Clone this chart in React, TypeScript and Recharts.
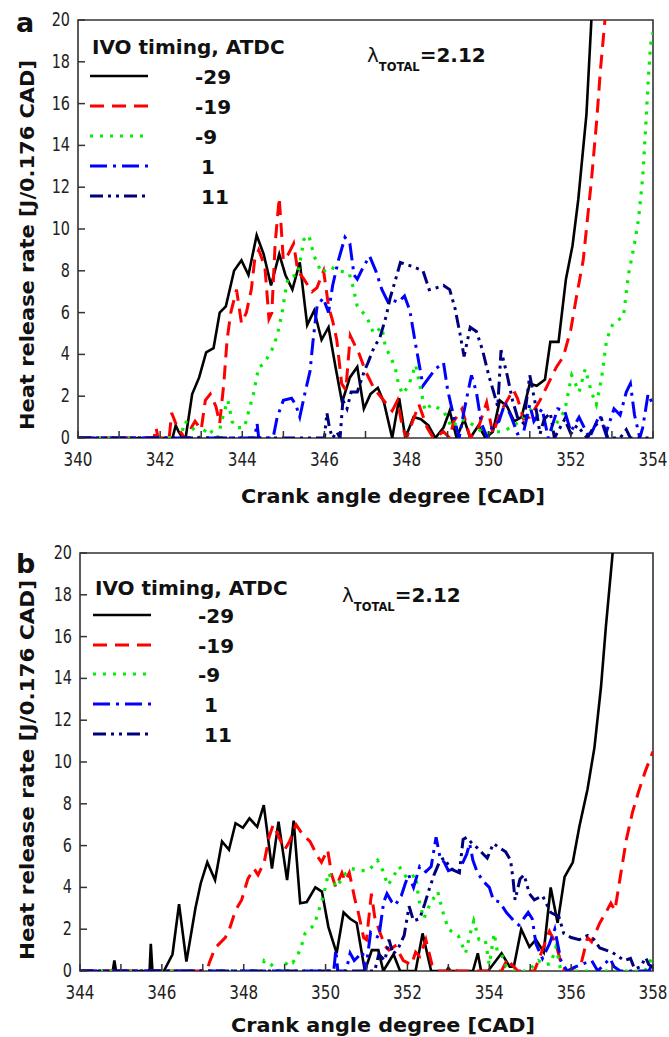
import { LineChart, Line, XAxis, YAxis, ReferenceArea } from 'recharts'

type Pt = [number, number]

// panel a, heat release rate vs crank angle for each IVO timing
const aIvoM29: Pt[] = [
  [340, 0], [342.3, 0], [342.38, 0.6], [342.45, 0.3], [342.55, 0], [342.62, 0], [342.78, 2.1], [342.95, 2.9],
  [343.12, 4.1], [343.3, 4.3], [343.45, 6.0], [343.6, 6.3], [343.8, 8.0], [343.98, 8.5], [344.15, 7.8],
  [344.35, 9.7], [344.52, 8.8], [344.7, 7.3], [344.9, 8.8], [345.05, 7.8], [345.22, 7.1], [345.4, 8.4],
  [345.58, 5.4], [345.75, 6.1], [345.93, 4.7], [346.1, 5.3], [346.27, 3.4], [346.43, 1.7], [346.62, 2.9],
  [346.8, 3.4], [346.96, 1.4], [347.12, 2.1], [347.3, 2.4], [347.45, 1.7], [347.65, 0], [347.82, 1.9],
  [347.97, 0], [348.17, 1.0], [348.35, 0.9], [348.53, 0.6], [348.7, 0], [348.9, 0.5], [349.05, 1.3],
  [349.22, 0], [349.4, 0.9], [349.55, 0], [349.75, 0.6], [349.92, 0], [350.1, 0.3], [350.27, 1.8],
  [350.45, 1.5], [350.62, 0.8], [350.8, 1.0], [351.0, 2.6], [351.17, 2.5], [351.37, 2.8], [351.5, 4.6],
  [351.7, 4.6], [351.88, 7.6], [352.04, 9.2], [352.18, 11.4], [352.38, 15.5], [352.5, 20], [352.6, 22],
]
const aIvoM19: Pt[] = [
  [340, 0], [341.85, 0], [341.9, 0.5], [341.95, 0], [342.22, 0], [342.28, 1.2], [342.42, 0.5], [342.6, 0],
  [342.72, 0], [342.76, 0.5], [342.85, 0.8], [343.0, 0.4], [343.1, 1.8], [343.22, 2.1], [343.36, 1.5],
  [343.45, 0.7], [343.55, 2.6], [343.63, 4.7], [343.72, 6.0], [343.86, 7.1], [343.98, 5.5], [344.1, 6.0],
  [344.22, 7.1], [344.3, 8.5], [344.4, 9.0], [344.55, 8.2], [344.65, 5.7], [344.72, 6.0], [344.8, 9.3],
  [344.9, 11.5], [345.0, 8.5], [345.12, 8.8], [345.25, 9.3], [345.35, 8.0], [345.5, 7.6], [345.7, 7.0],
  [345.82, 7.2], [345.98, 8.0], [346.1, 6.3], [346.2, 5.6], [346.3, 4.7], [346.42, 2.6], [346.52, 2.3],
  [346.63, 4.9], [346.85, 4.0], [347.0, 3.2], [347.2, 2.4], [347.4, 1.9], [347.65, 1.3], [347.78, 1.8],
  [347.9, 0.5], [348.0, 0], [348.15, 0.8], [348.3, 1.6], [348.5, 0.5], [348.65, 0], [348.9, 0.3],
  [349.05, 0], [349.15, 0.8], [349.35, 1.4], [349.55, 0], [349.75, 0.5], [349.95, 1.7], [350.1, 0.2],
  [350.3, 1.3], [350.6, 2.3], [350.7, 1.9], [350.85, 0.9], [351.0, 1.0], [351.25, 1.8], [351.45, 2.6],
  [351.65, 3.4], [351.82, 3.9], [352.0, 5.2], [352.14, 6.8], [352.3, 8.5], [352.5, 12.3], [352.63, 15.2],
  [352.72, 17.6], [352.83, 20], [352.9, 22],
]
const aIvoM9: Pt[] = [
  [340, 0], [342.5, 0], [342.6, 0.8], [342.75, 0.6], [342.95, 0], [343.15, 0.5], [343.4, 0], [343.55, 1.2],
  [343.65, 1.8], [343.75, 0.8], [343.85, 0.5], [344.05, 0.5], [344.27, 2.1], [344.4, 3.4], [344.5, 3.5],
  [344.6, 3.8], [344.77, 4.4], [344.87, 5.1], [344.97, 6.0], [345.04, 6.9], [345.12, 7.7], [345.35, 7.8],
  [345.5, 9.5], [345.62, 9.7], [345.75, 8.7], [345.93, 7.9], [346.13, 8.2], [346.35, 8.0], [346.6, 7.9],
  [346.7, 7.2], [346.8, 6.3], [347.03, 5.8], [347.2, 5.0], [347.4, 5.3], [347.48, 4.4], [347.72, 3.4],
  [347.8, 2.6], [347.9, 2.1], [348.05, 2.5], [348.22, 3.5], [348.45, 1.3], [348.6, 1.6], [348.9, 1.3],
  [349.1, 0.5], [349.3, 0.9], [349.5, 0.8], [349.7, 0.5], [349.9, 0.2], [350.1, 0.3], [350.3, 0.3],
  [350.55, 0.5], [350.75, 0.8], [351.05, 1.4], [351.3, 0.8], [351.55, 0.4], [351.85, 1.3], [352.02, 3.0],
  [352.2, 2.2], [352.35, 3.3], [352.5, 2.2], [352.62, 1.6], [352.75, 2.9], [352.87, 4.7], [353.03, 5.5],
  [353.28, 5.8], [353.4, 7.8], [353.55, 9.3], [353.65, 10.5], [353.75, 12.5], [353.82, 14.8],
  [353.88, 17.0], [353.94, 18.8], [354, 19.4],
]
const aIvoP1: Pt[] = [
  [340, 0], [344.3, 0], [344.36, 0.7], [344.4, 0], [344.75, 0], [344.8, 0.5], [344.85, 1.0], [345.0, 1.8],
  [345.2, 1.9], [345.3, 1.6], [345.4, 1.0], [345.52, 2.1], [345.65, 3.2], [345.72, 4.6], [345.82, 6.3],
  [345.97, 6.7], [346.1, 6.0], [346.2, 7.3], [346.34, 8.5], [346.5, 9.6], [346.62, 9.3], [346.72, 7.8],
  [346.8, 7.6], [346.95, 8.2], [347.1, 8.7], [347.25, 8.0], [347.4, 7.1], [347.55, 6.5], [347.65, 6.6],
  [347.8, 6.5], [347.95, 6.8], [348.08, 6.1], [348.2, 4.7], [348.3, 3.6], [348.4, 2.5], [348.55, 2.9],
  [348.7, 3.3], [348.9, 3.6], [349.0, 2.3], [349.15, 1.0], [349.28, 0], [349.4, 1.3], [349.58, 3.0],
  [349.7, 2.2], [349.82, 0.7], [349.97, 0], [350.1, 0.6], [350.25, 0.8], [350.4, 1.7], [350.55, 1.0],
  [350.7, 0.2], [350.85, 0.3], [351.0, 1.6], [351.1, 0.8], [351.3, 1.4], [351.45, 0], [351.68, 1.4],
  [351.85, 1.3], [352.0, 0.3], [352.2, 1.0], [352.45, 0], [352.7, 1.1], [352.85, 0.2], [353.05, 1.4],
  [353.2, 1.1], [353.35, 2.2], [353.45, 2.6], [353.55, 1.1], [353.68, 0], [353.75, 0.5], [353.88, 2.1],
  [354, 1.6],
]
const aIvoP11: Pt[] = [
  [340, 0], [346.0, 0], [346.06, 1.2], [346.13, 0.4], [346.2, 0], [346.3, 0.3], [346.38, 0], [346.45, 1.8],
  [346.55, 1.4], [346.65, 2.2], [346.8, 2.2], [346.97, 3.2], [347.06, 3.6], [347.2, 4.3], [347.35, 4.8],
  [347.5, 5.8], [347.6, 6.7], [347.72, 7.5], [347.85, 8.4], [348.0, 8.3], [348.15, 8.2], [348.4, 8.0],
  [348.55, 7.1], [348.75, 7.2], [348.9, 7.3], [349.05, 7.1], [349.18, 6.2], [349.3, 5.0], [349.4, 3.9],
  [349.55, 5.3], [349.7, 5.1], [349.85, 4.2], [350.0, 3.0], [350.12, 2.2], [350.22, 1.5], [350.3, 4.2],
  [350.45, 3.0], [350.58, 1.8], [350.7, 1.0], [350.85, 0.7], [351.0, 3.0], [351.12, 1.8], [351.25, 0.2],
  [351.35, 0.9], [351.5, 1.2], [351.6, 0], [351.85, 0.9], [352.0, 0.2], [352.15, 0.6], [352.4, 0],
  [352.55, 0.5], [352.75, 0.9], [352.9, 0], [353.2, 0], [353.35, 0.4], [353.45, 0], [354, 0],
]

// panel b
const bIvoM29: Pt[] = [
  [344, 0], [344.8, 0], [344.84, 0.5], [344.88, 0], [345.7, 0], [345.73, 1.3], [345.77, 0], [346.05, 0],
  [346.26, 0.8], [346.42, 3.2], [346.6, 0.45], [346.82, 3.0], [346.95, 4.2], [347.11, 5.2], [347.3, 4.35],
  [347.47, 6.2], [347.64, 5.8], [347.8, 7.07], [347.98, 6.85], [348.14, 7.3], [348.33, 6.9], [348.49, 7.94],
  [348.69, 4.9], [348.85, 7.15], [349.06, 4.35], [349.22, 7.2], [349.38, 3.24], [349.54, 3.3], [349.75, 4.0],
  [349.91, 3.8], [350.07, 2.1], [350.27, 0.85], [350.44, 2.8], [350.6, 2.5], [350.76, 2.3], [350.96, 0],
  [351.13, 1.0], [351.29, 1.0], [351.41, 0], [351.66, 0.8], [351.82, 0], [352.2, 0], [352.37, 1.8],
  [352.58, 0], [352.95, 0], [353.0, 0.15], [353.05, 0], [353.6, 0], [353.72, 0.85], [353.8, 0],
  [353.97, 0], [354.3, 0.85], [354.5, 0.2], [354.6, 0.2], [354.78, 2.0], [354.98, 1.15], [355.14, 1.5],
  [355.33, 0.9], [355.5, 4.0], [355.67, 2.3], [355.84, 4.5], [356.04, 5.2], [356.2, 6.9], [356.4, 8.7],
  [356.57, 10.7], [356.73, 13.6], [356.85, 16.5], [357.0, 19.7], [357.1, 22],
]
const bIvoM19: Pt[] = [
  [344, 0], [347.1, 0], [347.16, 0.4], [347.3, 1.1], [347.55, 1.6], [347.65, 2.0], [347.8, 2.9], [347.95, 3.4],
  [348.1, 4.4], [348.25, 4.9], [348.35, 4.6], [348.5, 5.2], [348.62, 6.4], [348.72, 7.0], [348.82, 6.6],
  [349.0, 5.8], [349.12, 6.2], [349.28, 7.0], [349.45, 6.5], [349.62, 6.2], [349.8, 5.5], [349.9, 5.2],
  [350.05, 5.8], [350.15, 4.6], [350.25, 4.0], [350.4, 4.7], [350.48, 4.3], [350.58, 4.7], [350.72, 3.4],
  [350.8, 2.8], [350.93, 1.6], [351.0, 1.5], [351.12, 3.7], [351.2, 2.6], [351.3, 2.0], [351.45, 1.2],
  [351.55, 1.0], [351.7, 1.2], [351.9, 0.5], [352.1, 0.3], [352.2, 0.9], [352.3, 0.7], [352.45, 1.5],
  [352.6, 0.3], [352.75, 0], [353.1, 0], [353.15, 0.2], [353.2, 0], [354.3, 0], [354.45, 0.6], [354.55, 0.3],
  [354.7, 0], [355.1, 0], [355.2, 0.5], [355.47, 1.9], [355.63, 1.3], [355.79, 0.1], [355.95, 0],
  [356.1, 0.2], [356.25, 0.4], [356.4, 1.6], [356.5, 1.4], [356.7, 2.3], [356.85, 2.8], [356.97, 3.25],
  [357.07, 2.9], [357.2, 4.5], [357.35, 6.3], [357.5, 7.6], [357.65, 8.6], [357.82, 9.6], [358, 10.5],
]
const bIvoM9: Pt[] = [
  [344, 0], [348.45, 0], [348.5, 0.5], [348.6, 0.4], [348.9, 0], [349.1, 0.5], [349.2, 0.4], [349.38, 1.0],
  [349.5, 1.8], [349.72, 2.2], [349.95, 3.6], [350.07, 4.7], [350.15, 4.4], [350.27, 4.0], [350.45, 4.6],
  [350.64, 4.9], [350.85, 4.8], [351.05, 4.8], [351.27, 5.3], [351.4, 4.8], [351.52, 4.1], [351.62, 4.4],
  [351.8, 5.0], [352.0, 4.4], [352.2, 4.6], [352.28, 3.4], [352.4, 2.5], [352.55, 3.2], [352.74, 3.8],
  [352.87, 2.8], [353.0, 2.0], [353.24, 1.7], [353.42, 0.85], [353.52, 1.7], [353.62, 2.4], [353.75, 1.5],
  [353.9, 1.5], [354.0, 0.3], [354.12, 1.8], [354.2, 0.9], [354.3, 0.8], [354.42, 0.2], [354.6, 0],
  [354.95, 0], [355.05, 0.2], [355.2, 0.5], [355.35, 0.3], [355.5, 0.35], [355.63, 1.15], [355.75, 0],
  [357.8, 0], [358, 0.7],
]
const bIvoP1: Pt[] = [
  [344, 0], [350.2, 0], [350.25, 1.0], [350.3, 0], [350.5, 0], [350.6, 0.85], [350.7, 0.5], [350.9, 0.9],
  [350.98, 0], [351.1, 1.85], [351.2, 1.7], [351.3, 1.6], [351.42, 3.3], [351.5, 3.7], [351.62, 3.3],
  [351.7, 3.15], [351.85, 3.6], [351.95, 4.2], [352.03, 4.6], [352.15, 4.0], [352.3, 5.0], [352.45, 4.75],
  [352.58, 5.0], [352.7, 6.4], [352.8, 5.4], [352.9, 5.2], [353.0, 4.8], [353.15, 4.9], [353.25, 4.75],
  [353.45, 5.6], [353.52, 6.1], [353.6, 5.3], [353.7, 4.75], [353.85, 4.3], [354.0, 4.0], [354.1, 3.4],
  [354.25, 3.3], [354.42, 2.8], [354.6, 2.4], [354.72, 2.2], [354.95, 2.8], [355.05, 2.5], [355.14, 1.3],
  [355.3, 0.6], [355.47, 1.3], [355.6, 2.0], [355.75, 0.5], [355.9, 0], [356.1, 0.2], [356.3, 0.35],
  [356.5, 0.5], [356.65, 0], [356.95, 0.6], [357.05, 0.2], [357.2, 0], [357.9, 0], [358, 0.4],
]
const bIvoP11: Pt[] = [
  [344, 0], [351.2, 0], [351.3, 0.8], [351.45, 0.5], [351.55, 1.5], [351.65, 0.8], [351.78, 1.1],
  [351.92, 1.7], [352.04, 3.1], [352.15, 2.4], [352.3, 2.5], [352.42, 3.2], [352.53, 3.9], [352.65, 4.6],
  [352.8, 5.3], [352.9, 5.4], [353.05, 4.9], [353.15, 4.8], [353.27, 4.7], [353.36, 6.3], [353.45, 6.4],
  [353.58, 6.1], [353.7, 5.9], [353.85, 5.6], [353.95, 5.4], [354.1, 6.1], [354.25, 5.9], [354.4, 5.7],
  [354.52, 5.3], [354.58, 4.4], [354.63, 3.4], [354.75, 4.4], [354.85, 4.6], [354.98, 3.7], [355.1, 3.4],
  [355.3, 3.6], [355.5, 2.8], [355.7, 2.6], [355.82, 1.8], [356.0, 1.6], [356.2, 1.5], [356.4, 1.7],
  [356.56, 1.5], [356.7, 1.1], [356.85, 1.0], [357.0, 0.9], [357.15, 0.7], [357.3, 0.5], [357.45, 0.6],
  [357.55, 0.1], [357.7, 0.2], [357.82, 0.65], [357.9, 0.3], [358, 0.2],
]

const ivoLabels = ['-29', '-19', '-9', '1', '11']
const ivoColors = ['#000000', '#ff0000', '#00ee00', '#0000ff', '#00007f']
const ivoDashes = ['', '14 8', '3 7', '17 6 3 6', '13 5 3 5 3 5']
const ivoWidths = [2.6, 3, 3.2, 3, 3]

const aTicksX = [340, 341, 342, 343, 344, 345, 346, 347, 348, 349, 350, 351, 352, 353, 354]
const bTicksX = [344, 345, 346, 347, 348, 349, 350, 351, 352, 353, 354, 355, 356, 357, 358]
const yTicks = [0, 2, 4, 6, 8, 10, 12, 14, 16, 18, 20]

const AXIS = '#333'
const FONT = '"DejaVu Sans", Verdana, sans-serif'

const XTick = (props: any) => {
  const { x, y, payload } = props
  const v = payload.value
  return (
    <g>
      <line x1={x} y1={y} x2={x} y2={y - 7} stroke={AXIS} strokeWidth={1.5} />
      {v % 2 === 0 && (
        <text transform={`translate(${x},${y + 28}) scale(0.76,1)`} textAnchor="middle"
          fontFamily={FONT} fontSize={20} fill="#222">{v}</text>
      )}
    </g>
  )
}

const YTick = (props: any) => {
  const { x, y, payload } = props
  return (
    <g>
      <line x1={x} y1={y} x2={x + 7} y2={y} stroke={AXIS} strokeWidth={1.5} />
      <text transform={`translate(${x - 8},${y + 6}) scale(0.76,1)`} textAnchor="end"
        fontFamily={FONT} fontSize={19} fill="#222">{payload.value}</text>
    </g>
  )
}

interface PanelProps {
  top: number
  letter: string
  series: Pt[][]
  ticksX: number[]
  plotLeft: number
  legendY: number[]
  legendX: number
  legendTitleY: number
  lambdaX: number
  lambdaY: number
  xTitleX: number
  xTitleY: number
  yTitleY: number
  yTitleLen: number
}

const Panel = (p: PanelProps) => {
  const xMin = p.ticksX[0]
  const xMax = p.ticksX[p.ticksX.length - 1]
  return (
    <div style={{ position: 'absolute', left: 0, top: p.top, width: 669, height: 520 }}>
      <LineChart width={669} height={520} margin={{ top: 20, right: 16, bottom: 0, left: 0 }}>
        <XAxis dataKey="x" type="number" domain={[xMin, xMax]} ticks={p.ticksX} interval={0}
          allowDataOverflow height={82} axisLine={false} tickLine={false} tickSize={0} tickMargin={0}
          tick={<XTick />} />
        <YAxis type="number" domain={[0, 20]} ticks={yTicks} interval={0} allowDataOverflow
          width={p.plotLeft} axisLine={false} tickLine={false} tickSize={0} tickMargin={0}
          tick={<YTick />} />
        <ReferenceArea x1={xMin} x2={xMax} y1={0} y2={20} fill="none" stroke={AXIS} strokeWidth={1.6} />
        {p.series.map((pts, i) => (
          <Line key={ivoLabels[i]} data={pts.map(([x, y]) => ({ x, y }))} dataKey="y" name={ivoLabels[i]}
            type="linear" stroke={ivoColors[i]} strokeWidth={ivoWidths[i]} strokeDasharray={ivoDashes[i] || undefined}
            dot={false} activeDot={false} isAnimationActive={false} />
        ))}
      </LineChart>
      <svg width={669} height={520} style={{ position: 'absolute', left: 0, top: 0, pointerEvents: 'none' }}
        fontFamily={FONT}>
        <text x={16} y={p.legendTitleY - 22} fontSize={27} fontWeight="bold" fill="#111">{p.letter}</text>
        <text transform={`translate(34,${p.yTitleY}) rotate(-90)`} textAnchor="middle" fontSize={20}
          fontWeight="bold" fill="#111" textLength={p.yTitleLen} lengthAdjust="spacingAndGlyphs">
          Heat release rate  [J/0.176 CAD]
        </text>
        <text x={p.xTitleX} y={p.xTitleY} textAnchor="middle" fontSize={20} fontWeight="bold" fill="#111"
          textLength={304} lengthAdjust="spacingAndGlyphs">Crank angle degree  [CAD]</text>
        <text x={p.legendX + 2} y={p.legendTitleY} fontSize={20} fontWeight="bold" fill="#111">IVO timing, ATDC</text>
        {ivoLabels.map((lab, i) => (
          <g key={lab}>
            <line x1={p.legendX} x2={p.legendX + 58} y1={p.legendY[i]} y2={p.legendY[i]} stroke={ivoColors[i]}
              strokeWidth={ivoWidths[i]} strokeDasharray={ivoDashes[i] || undefined} />
            <text x={p.legendX + (lab.startsWith('-') ? 105 : 111)} y={p.legendY[i] + 8} fontSize={20}
              fontWeight="bold" fill="#111">{lab}</text>
          </g>
        ))}
        <text x={p.lambdaX} y={p.lambdaY} fontSize={20} fill="#111">
          λ
          <tspan dy={9} fontSize={11.5} fontWeight="bold">TOTAL</tspan>
          <tspan dy={-9} fontSize={20} fontWeight="bold">=2.12</tspan>
        </text>
      </svg>
    </div>
  )
}

export default function App() {
  return (
    <div style={{ position: 'absolute', left: 0, top: 0, width: 669, height: 1037, background: '#fff' }}>
      <Panel top={0} letter="a" series={[aIvoM29, aIvoM19, aIvoM9, aIvoP1, aIvoP11]} ticksX={aTicksX}
        plotLeft={78} legendY={[76, 106, 136, 166, 196]} legendX={90} legendTitleY={54}
        lambdaX={367} lambdaY={62} xTitleX={393} xTitleY={503} yTitleY={245} yTitleLen={370} />
      <Panel top={533} letter="b" series={[bIvoM29, bIvoM19, bIvoM9, bIvoP1, bIvoP11]} ticksX={bTicksX}
        plotLeft={80} legendY={[82, 112, 141, 171, 201]} legendX={93} legendTitleY={62}
        lambdaX={342} lambdaY={69} xTitleX={383} xTitleY={499} yTitleY={237} yTitleLen={380} />
    </div>
  )
}
